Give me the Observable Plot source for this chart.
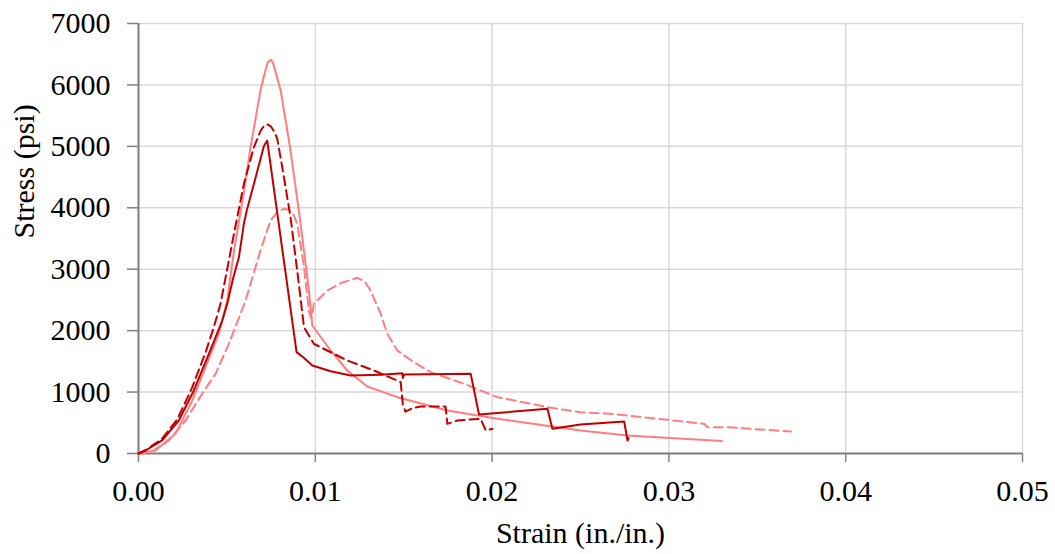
<!DOCTYPE html>
<html>
<head>
<meta charset="utf-8">
<script src="https://cdn.jsdelivr.net/npm/d3@7"></script>
<script src="https://cdn.jsdelivr.net/npm/@observablehq/plot@0.6"></script>
<style>
  html, body { margin: 0; padding: 0; background: #fff; }
  #chart { width: 1055px; height: 554px; }
</style>
</head>
<body>
<div id="chart"></div>
<script>
// Tick labels
const xTicks = [0, 0.01, 0.02, 0.03, 0.04, 0.05];
const yTicks = [0, 1000, 2000, 3000, 4000, 5000, 6000, 7000];
const xLabel = "Strain (in./in.)";
const yLabel = "Stress (psi)";

// Series A: dark red solid
const strainA = [0, 0.0004, 0.00134, 0.00228, 0.00313, 0.00398, 0.00474, 0.00502, 0.00535, 0.00568, 0.00596, 0.00612, 0.00653, 0.00709, 0.00728, 0.00894, 0.00935, 0.00983, 0.01087, 0.012, 0.0137, 0.01492, 0.01495, 0.01502, 0.01879, 0.01926, 0.02313, 0.02341, 0.025, 0.02747, 0.02766, 0.02772];
const stressA = [0, 49, 212, 537, 1026, 1623, 2165, 2436, 2850, 3196, 3739, 3950, 4390, 5000, 5095, 1650, 1560, 1432, 1340, 1270, 1281, 1307, 1230, 1285, 1297, 635, 727, 402, 472, 521, 212, 250];

// Series B: dark red dashed
const strainB = [0, 0.0004, 0.0013, 0.0022, 0.003, 0.0038, 0.00426, 0.00464, 0.0054, 0.00596, 0.00653, 0.0069, 0.0071, 0.00728, 0.0075, 0.0077, 0.00785, 0.00813, 0.0086, 0.00907, 0.00936, 0.00992, 0.01181, 0.01332, 0.01483, 0.01495, 0.0151, 0.0155, 0.01596, 0.01737, 0.01747, 0.01804, 0.01935, 0.01964, 0.02002];
const stressB = [0, 55, 230, 560, 1050, 1650, 2056, 2436, 3577, 4390, 4986, 5250, 5335, 5360, 5320, 5230, 5120, 4661, 3847, 2762, 2056, 1785, 1514, 1351, 1161, 800, 680, 740, 765, 765, 483, 537, 565, 374, 402];

// Series C: light red solid
const strainC = [0, 0.00096, 0.00209, 0.00304, 0.00379, 0.00454, 0.00502, 0.0054, 0.00596, 0.00634, 0.0069, 0.0071, 0.0073, 0.00747, 0.0076, 0.0078, 0.00804, 0.0086, 0.00917, 0.00964, 0.00983, 0.01087, 0.01181, 0.01294, 0.01464, 0.01747, 0.0203, 0.025, 0.02766, 0.033];
const stressC = [0, 49, 320, 863, 1405, 1948, 2491, 3300, 4250, 4986, 5909, 6150, 6360, 6409, 6370, 6160, 5909, 4932, 3739, 2653, 2084, 1677, 1351, 1091, 917, 700, 565, 374, 293, 205];

// Series D: light red dashed
const strainD = [0, 0.0008, 0.00172, 0.00266, 0.0036, 0.00436, 0.00511, 0.00606, 0.0069, 0.00747, 0.00785, 0.00822, 0.00851, 0.00878, 0.00898, 0.00936, 0.00965, 0.00978, 0.00992, 0.01068, 0.0115, 0.01238, 0.0128, 0.01313, 0.0137, 0.01407, 0.01464, 0.0155, 0.01653, 0.01841, 0.0203, 0.02313, 0.025, 0.02671, 0.02992, 0.03199, 0.03218, 0.0333, 0.0369];
const stressD = [0, 40, 212, 537, 972, 1297, 1785, 2491, 3305, 3793, 3930, 3983, 3967, 3880, 3739, 3033, 2300, 2200, 2436, 2653, 2780, 2860, 2800, 2650, 2274, 1948, 1677, 1500, 1324, 1134, 917, 754, 672, 646, 548, 483, 428, 428, 358];

const zip = (xs, ys) => xs.map((x, i) => ({x, y: ys[i]}));
const A = zip(strainA, stressA);
const B = zip(strainB, stressB);
const C = zip(strainC, stressC);
const D = zip(strainD, stressD);

const dark = "#c00000";
const light = "#ff7c80";
const font = "'Liberation Serif', 'Times New Roman', serif";

const chart = Plot.plot({
  width: 1055,
  height: 554,
  marginLeft: 138,
  marginRight: 33,
  marginTop: 23,
  marginBottom: 101,
  style: {fontFamily: font, fontSize: "30px", background: "#fff", color: "#000"},
  x: {domain: [0, 0.05]},
  y: {domain: [0, 7000]},
  marks: [
    Plot.gridX(xTicks, {stroke: "#d9d9d9", strokeOpacity: 1, strokeWidth: 1.5}),
    Plot.gridY(yTicks, {stroke: "#d9d9d9", strokeOpacity: 1, strokeWidth: 1.5}),
    Plot.axisX(xTicks, {tickFormat: d3.format(".2f"), tickSize: 9, tickPadding: 17, stroke: "#808080", strokeWidth: 1.5, fill: "#000", label: null, fontSize: 30}),
    Plot.axisY(yTicks, {tickFormat: d3.format("d"), tickSize: 11, tickPadding: 17, stroke: "#808080", strokeWidth: 1.5, fill: "#000", label: null, fontSize: 30}),
    Plot.ruleX([0], {stroke: "#808080", strokeWidth: 2}),
    Plot.ruleY([0], {stroke: "#808080", strokeWidth: 2}),
    Plot.line(D, {x: "x", y: "y", stroke: light, strokeWidth: 2, strokeDasharray: "9,5"}),
    Plot.line(C, {x: "x", y: "y", stroke: light, strokeWidth: 2}),
    Plot.line(B, {x: "x", y: "y", stroke: dark, strokeWidth: 2, strokeDasharray: "9,5"}),
    Plot.line(A, {x: "x", y: "y", stroke: dark, strokeWidth: 2}),
    Plot.text([xLabel], {frameAnchor: "bottom", dy: 89, fontSize: 30, fill: "#000"}),
    Plot.text([yLabel], {frameAnchor: "left", dx: -114, rotate: -90, fontSize: 30, fill: "#000"})
  ]
});
document.getElementById("chart").appendChild(chart);
</script>
</body>
</html>
